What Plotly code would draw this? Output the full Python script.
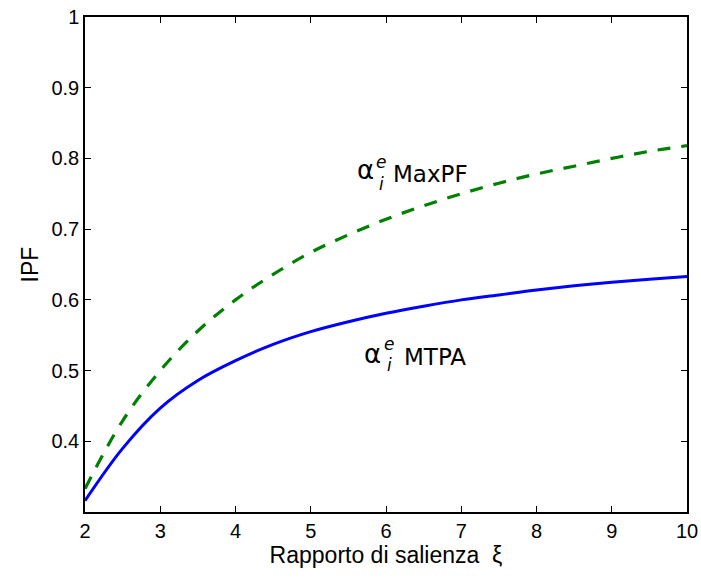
import plotly.graph_objects as go

xi = [2, 2.5, 3, 3.5, 4, 4.5, 5, 5.5, 6, 6.5, 7, 7.5, 8, 8.5, 9, 9.5, 10]
ipf_mtpa = [0.316, 0.390, 0.447, 0.486, 0.514, 0.537, 0.555, 0.569, 0.581,
            0.591, 0.600, 0.607, 0.614, 0.620, 0.625, 0.629, 0.633]
ipf_maxpf = [0.333, 0.429, 0.500, 0.556, 0.600, 0.636, 0.667, 0.692, 0.714,
             0.733, 0.750, 0.765, 0.778, 0.789, 0.800, 0.810, 0.818]
x_ticks = [2, 3, 4, 5, 6, 7, 8, 9, 10]
y_ticks = [0.4, 0.5, 0.6, 0.7, 0.8, 0.9, 1]
y_tick_text = ["0.4", "0.5", "0.6", "0.7", "0.8", "0.9", "1"]

fig = go.Figure()
fig.add_trace(go.Scatter(x=xi, y=ipf_mtpa, mode="lines",
                         line=dict(color="#0000ff", width=3, shape="spline"),
                         showlegend=False))
fig.add_trace(go.Scatter(x=xi, y=ipf_maxpf, mode="lines",
                         line=dict(color="#008000", width=3.2, shape="spline", dash="13px,11px"),
                         showlegend=False))

tickfont = dict(family="Liberation Sans, Arial", size=20, color="black")
titlefont = dict(family="Liberation Sans, Arial", size=23, color="black")
fig.update_xaxes(range=[2, 10], tickvals=x_ticks, ticks="inside", ticklen=6,
                 tickcolor="black", showline=True, linecolor="black", linewidth=1.5,
                 mirror="ticks", showgrid=False, zeroline=False, tickfont=tickfont,
                 automargin=False,
                 title=dict(text="Rapporto di salienza  ξ", standoff=6, font=titlefont))
fig.update_yaxes(range=[0.3, 1], tickvals=y_ticks, ticktext=y_tick_text, ticks="inside",
                 ticklen=6, tickcolor="black", showline=True, linecolor="black", linewidth=1.5,
                 mirror="ticks", showgrid=False, zeroline=False, tickfont=tickfont,
                 automargin=False,
                 title=dict(text="IPF", standoff=6, font=titlefont))

# plot area in page pixels: left 85, top 17, 602 x 495
L, T, W, H = 85, 17, 602, 495
def px(xp):
    return (xp - L) / W
def py(yp):
    return (T + H - yp) / H

lab = "DejaVu Sans"
def label(a, e, i, tx, name):
    fig.add_annotation(x=px(a[0]), y=py(a[1]), xref="paper", yref="paper", text="α",
                       showarrow=False, font=dict(family=lab, size=26, color="black"),
                       xanchor="center", yanchor="middle")
    fig.add_annotation(x=px(e[0]), y=py(e[1]), xref="paper", yref="paper", text="<i>e</i>",
                       showarrow=False, font=dict(family=lab, size=17, color="black"),
                       xanchor="center", yanchor="middle")
    fig.add_annotation(x=px(i[0]), y=py(i[1]), xref="paper", yref="paper", text="<i>i</i>",
                       showarrow=False, font=dict(family=lab, size=17, color="black"),
                       xanchor="center", yanchor="middle")
    fig.add_annotation(x=px(tx[0]), y=py(tx[1]), xref="paper", yref="paper", text=name,
                       showarrow=False, font=dict(family=lab, size=23, color="black"),
                       xanchor="left", yanchor="middle")

label((365, 170), (381, 162), (381, 184), (391, 174), "MaxPF")
label((372, 354), (389, 344), (389, 365), (402, 357), "MTPA")

FW, FH = 701, 580
fig.update_layout(width=FW, height=FH, plot_bgcolor="white", paper_bgcolor="white",
                  margin=dict(l=L, r=FW - L - W, t=T, b=FH - T - H))
fig.write_html("out.html", config={"displayModeBar": False},
               post_script="document.body.style.margin='0';document.body.style.overflow='hidden';")
